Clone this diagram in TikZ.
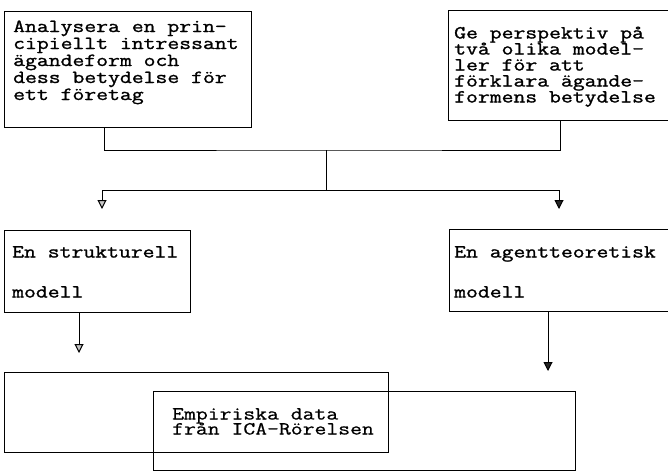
\documentclass[tikz,border=0pt]{standalone}
\usepackage{fontspec}
\usetikzlibrary{arrows.meta}
\newfontfamily\twfont[FakeStretch=1.245,FakeBold=1.3]{Latin Modern Mono}
\newfontfamily\twfontlight[FakeStretch=1.245,FakeBold=0.7]{Latin Modern Mono}
\tikzset{
  boxnode/.style={draw=black, line width=1pt, rectangle, inner sep=0pt, anchor=north west},
  txt/.style={anchor=base west, inner sep=0pt, font=\twfont\fontsize{18.5}{18.5}\selectfont},
  txtl/.style={anchor=base west, inner sep=0pt, font=\twfontlight\fontsize{18.5}{18.5}\selectfont},
  conn/.style={line width=1pt},
  tipL/.style={line width=1pt, -{Triangle[width=9pt,length=9pt,fill=gray!45]}},
  tipR/.style={line width=1pt, -{Triangle[width=9pt,length=9pt,fill=black!85]}},
}
\begin{document}
\begin{tikzpicture}[x=1pt,y=-1pt]
\useasboundingbox (0,0) rectangle (668,472);
% boxes
\node[boxnode, minimum width=247pt, minimum height=116pt] (b1) at (4,11) {};
\node[boxnode, minimum width=240pt, minimum height=110pt] (b2) at (448,10) {};
\node[boxnode, minimum width=186pt, minimum height=82pt] (b3) at (4,230) {};
\node[boxnode, minimum width=240pt, minimum height=82pt] (b4) at (449,229) {};
\node[boxnode, minimum width=384pt, minimum height=80pt] (b5) at (4,372) {};
\node[boxnode, minimum width=422pt, minimum height=79pt] (b6) at (153,391) {};
% texts box 1
\node[txt] (t1a) at (13,32) {Analysera en prin-};
\node[txt] (t1b) at (13,49) {cipiellt intressant};
\node[txt] (t1c) at (13,66) {ägandeform och};
\node[txt] (t1d) at (13,83) {dess betydelse för};
\node[txt] (t1e) at (13,100) {ett företag};
% texts box 2
\node[txt] (t2a) at (454,38.5) {Ge perspektiv på};
\node[txt] (t2b) at (454,54.5) {två olika model-};
\node[txt] (t2c) at (454,70.5) {ler för att};
\node[txt] (t2d) at (454,86.5) {förklara ägande-};
\node[txt] (t2e) at (454,102.5) {formens betydelse};
% texts box 3, 4
\node[txt] (t3a) at (12,257.5) {En strukturell};
\node[txt] (t3b) at (12,297.5) {modell};
\node[txt] (t4a) at (454,257.5) {En agentteoretisk};
\node[txt] (t4b) at (454,297.5) {modell};
% texts box B
\node[txtl] (t6a) at (172,419.5) {Empiriska data};
\node[txtl] (t6b) at (172,434.5) {från ICA-Rörelsen};
% connector coordinates
\coordinate (j1) at (326,150);
\coordinate (j2) at (326,190);
\coordinate (s1) at (104,127);
\coordinate (s2) at (560,120);
\coordinate (aL) at (102,209);
\coordinate (aR) at (559,209);
\coordinate (s3) at (79,312);
\coordinate (s4) at (548,311);
\coordinate (aL2) at (79,353);
\coordinate (aR2) at (548,371);
% connectors
\draw[conn] (s1) |- (j1) -| (s2);
\draw[conn] (j1) -- (j2);
\draw[tipL] (j2) -| (aL);
\draw[tipR] (j2) -| (aR);
\draw[tipL] (s3) -- (aL2);
\draw[tipR] (s4) -- (aR2);
\end{tikzpicture}
\end{document}
